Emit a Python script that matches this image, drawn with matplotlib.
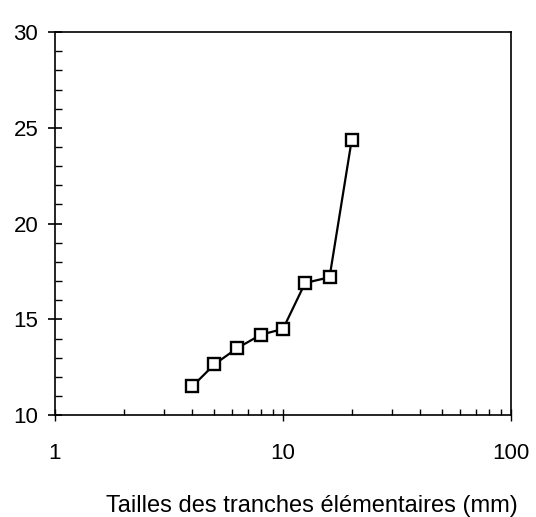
import matplotlib
matplotlib.use("Agg")
import matplotlib.pyplot as plt
from matplotlib.ticker import FixedLocator, LogLocator, NullFormatter, FixedFormatter

plt.rcParams['font.family'] = ['Liberation Sans', 'DejaVu Sans']

sizes = [4, 5, 6.3, 8, 10, 12.5, 16, 20]
values = [11.5, 12.65, 13.5, 14.2, 14.5, 16.9, 17.2, 24.35]
xticks = [1, 10, 100]
xticklabels = ["1", "10", "100"]
yticks = [10, 15, 20, 25, 30]
xlabel = "Tailles des tranches élémentaires (mm)"

fig = plt.figure(figsize=(5.36, 5.17), dpi=100)
ax = fig.add_axes([0.1026, 0.197, 0.8508, 0.741])
ax.plot(sizes, values, color='black', lw=1.6, marker='s', ms=9,
        mfc='white', mec='black', mew=1.7, zorder=3)
ax.set_xscale('log')
ax.set_xlim(1, 100)
ax.set_ylim(10, 30)
ax.xaxis.set_major_locator(FixedLocator(xticks))
ax.xaxis.set_major_formatter(FixedFormatter(xticklabels))
ax.xaxis.set_minor_locator(LogLocator(base=10, subs=range(2, 10)))
ax.xaxis.set_minor_formatter(NullFormatter())
ax.set_yticks(yticks)
ax.set_yticks(range(10, 31), minor=True)
for s in ax.spines.values():
    s.set_linewidth(1.2)
ax.tick_params(axis='y', which='major', direction='inout', length=10, width=1.2,
               labelsize=16, pad=7)
ax.tick_params(axis='y', which='minor', direction='in', length=5, width=1.0)
ax.tick_params(axis='x', which='major', direction='inout', length=8, width=1.0,
               labelsize=16, pad=16)
ax.tick_params(axis='x', which='minor', direction='in', length=4, width=1.0)
fig.text(312 / 536, 1 - 506 / 517, xlabel, fontsize=17, ha='center', va='center')
fig.savefig("out.png", dpi=100)
